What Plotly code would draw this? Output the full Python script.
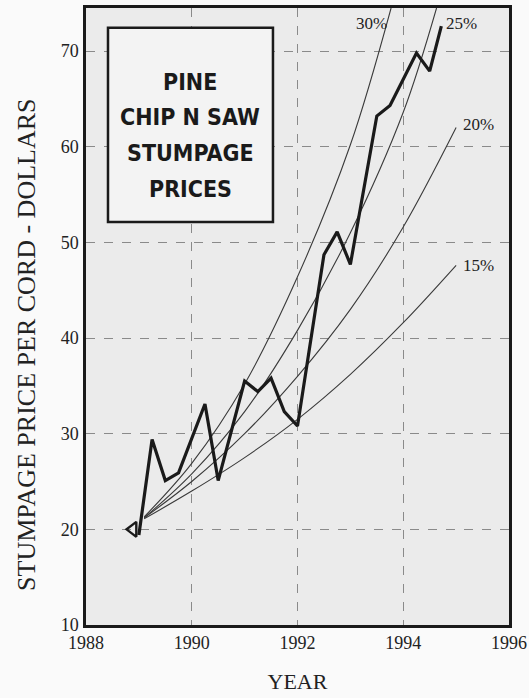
import plotly.graph_objects as go

# Price series
price_years = [1989.0, 1989.25, 1989.5, 1989.75, 1990.25, 1990.5, 1991.0, 1991.25,
               1991.5, 1991.75, 1992.0, 1992.5, 1992.75, 1993.0, 1993.5, 1993.75,
               1994.25, 1994.5, 1994.72]
price_values = [19.4, 29.4, 25.1, 25.9, 33.1, 25.1, 35.5, 34.4,
                35.8, 32.3, 30.8, 48.7, 51.1, 47.7, 63.2, 64.3,
                69.8, 67.9, 72.6]

base_year = [1988.89]
base_value = [20.0]

# Reference growth curves
c15_years = [1989.1, 1990, 1991, 1992, 1993, 1994, 1995.0]
c15_values = [21.1, 24.0, 27.5, 31.5, 36.2, 41.6, 47.6]
c20_years = [1989.1, 1990, 1991, 1992, 1993, 1994, 1995.0]
c20_values = [21.2, 25.0, 30.0, 36.0, 43.0, 51.6, 62.0]
c25_years = [1989.1, 1990, 1991, 1992, 1993, 1994, 1994.63]
c25_values = [21.2, 25.8, 32.3, 40.8, 51.0, 63.6, 74.5]
c30_years = [1989.1, 1990, 1991, 1992, 1993, 1993.77]
c30_values = [21.3, 26.9, 35.2, 46.4, 60.2, 74.5]

curve_labels = ["15%", "20%", "25%", "30%"]
label_x = [1995.43, 1995.43, 1995.1, 1993.39]
label_y = [47.6, 62.3, 72.9, 72.9]

x_ticks = [1988, 1990, 1992, 1994, 1996]
y_ticks = [10, 20, 30, 40, 50, 60, 70]

title_lines = ["PINE", "CHIP N SAW", "STUMPAGE", "PRICES"]
y_title = "STUMPAGE PRICE PER CORD - DOLLARS"
x_title = "YEAR"

fig = go.Figure()

curve_color = "#3a3a3a"
for xs, ys in [(c15_years, c15_values), (c20_years, c20_values),
               (c25_years, c25_values), (c30_years, c30_values)]:
    fig.add_trace(go.Scatter(x=xs, y=ys, mode="lines",
                             line=dict(color=curve_color, width=1.1, shape="spline"),
                             hoverinfo="skip", showlegend=False))

fig.add_trace(go.Scatter(x=price_years, y=price_values, mode="lines",
                         line=dict(color="#1a1a1a", width=3.2),
                         showlegend=False))
fig.add_trace(go.Scatter(x=base_year, y=base_value, mode="markers",
                         marker=dict(symbol="triangle-left-open", size=13,
                                     color="#1a1a1a", line=dict(width=2.4, color="#1a1a1a")),
                         showlegend=False))

serif = "Liberation Serif, Times New Roman, serif"
for t, lx, ly in zip(curve_labels, label_x, label_y):
    fig.add_annotation(x=lx, y=ly, text=t, showarrow=False,
                       xanchor="center", yanchor="middle",
                       font=dict(family=serif, size=17, color="#222"))

# Title box
bx0, bx1, by0, by1 = 0.052, 0.442, 0.653, 0.968
fig.add_shape(type="rect", xref="paper", yref="paper", x0=bx0, x1=bx1, y0=by0, y1=by1,
              line=dict(color="#1a1a1a", width=2.5), fillcolor="#f3f3f3", layer="above")
ys_lines = [0.880, 0.823, 0.765, 0.707]
for t, yy in zip(title_lines, ys_lines):
    fig.add_annotation(xref="paper", yref="paper", x=(bx0 + bx1) / 2, y=yy, text="<b>" + t + "</b>",
                       showarrow=False, xanchor="center", yanchor="middle",
                       font=dict(family="DejaVu Sans Condensed, sans-serif",
                                 size=23, color="#1a1a1a"))

# Y axis title as rotated annotation
fig.add_annotation(xref="paper", yref="paper", x=0, y=0.454, xshift=-59,
                   text=y_title, textangle=-90, showarrow=False,
                   xanchor="center", yanchor="middle",
                   font=dict(family=serif, size=26, color="#222"))

grid_color = "#8a8a8a"
fig.update_layout(
    width=529, height=698,
    margin=dict(l=86, r=20, t=8, b=73),
    paper_bgcolor="#fafafa",
    plot_bgcolor="#ebebeb",
    xaxis=dict(range=[1988, 1996], tickvals=x_ticks, ticktext=[str(v) for v in x_ticks],
               showgrid=True, gridcolor=grid_color, griddash="dash", gridwidth=1.2,
               showline=True, linecolor="#1a1a1a", linewidth=2.5, mirror=True,
               zeroline=False, ticks="", ticklabelstandoff=0, automargin=False,
               tickfont=dict(family=serif, size=18, color="#222"),
               title=dict(text=x_title, font=dict(family=serif, size=22, color="#222"), standoff=22)),
    yaxis=dict(range=[10, 74.5], tickvals=y_ticks, ticktext=[str(v) for v in y_ticks],
               showgrid=True, gridcolor=grid_color, griddash="dash", gridwidth=1.2,
               showline=True, linecolor="#1a1a1a", linewidth=2.5, mirror=True,
               zeroline=False, ticks="", ticklabelstandoff=1, automargin=False,
               tickfont=dict(family=serif, size=18, color="#222")),
)

fig.write_html("out.html", config={"displayModeBar": False},
               post_script="document.body.style.margin='0';document.body.style.overflow='hidden';")
